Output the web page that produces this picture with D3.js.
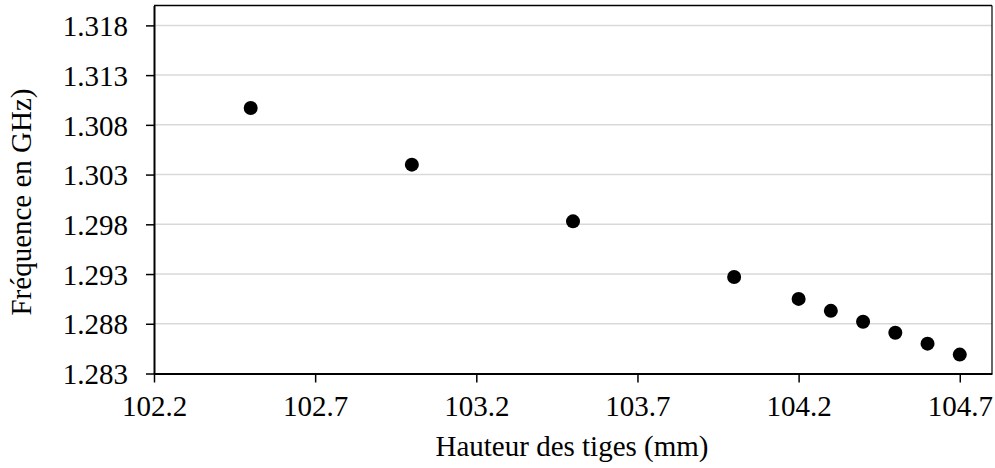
<!DOCTYPE html>
<html>
<head>
<meta charset="utf-8">
<script src="https://cdn.jsdelivr.net/npm/d3@7"></script>
<style>
  html, body { margin: 0; padding: 0; background: #fff; }
  svg { display: block; }
  text { font-family: "Liberation Serif", "Times New Roman", serif; fill: #000; }
</style>
</head>
<body>
<svg id="chart" width="995" height="468"></svg>
<script>
const hauteur = [102.5, 103.0, 103.5, 104.0, 104.2, 104.3, 104.4, 104.5, 104.6, 104.7];
const frequence = [1.3097, 1.3040, 1.2983, 1.2927, 1.2905, 1.2893, 1.2882, 1.2871, 1.2860, 1.2849];
const xTicks = [102.2, 102.7, 103.2, 103.7, 104.2, 104.7];
const yTicks = [1.283, 1.288, 1.293, 1.298, 1.303, 1.308, 1.313, 1.318];
const xTitle = "Hauteur des tiges (mm)";
const yTitle = "Fréquence en GHz)";

const svg = d3.select("#chart");
const pLeft = 154, pRight = 992, pTop = 5.5, pBottom = 373.5;
const fontSize = "29px";
const fontFam = '"Liberation Serif", "Times New Roman", serif';

const x = d3.scaleLinear().domain([102.2, 104.8]).range([pLeft, pRight]);
const y = d3.scaleLinear().domain([1.283, 1.320]).range([pBottom, pTop]);

// gridlines
svg.append("g").selectAll("line").data(yTicks.slice(1)).join("line")
  .attr("x1", pLeft).attr("x2", pRight)
  .attr("y1", d => y(d)).attr("y2", d => y(d))
  .attr("stroke", "#d9d9d9").attr("stroke-width", 1.5);

// frame top/right
svg.append("line").attr("x1", pLeft).attr("x2", pRight).attr("y1", pTop).attr("y2", pTop)
  .attr("stroke", "#000").attr("stroke-width", 1.5);
svg.append("line").attr("x1", pRight).attr("x2", pRight).attr("y1", pTop).attr("y2", pBottom)
  .attr("stroke", "#000").attr("stroke-width", 1.2);

// axes
const xAxis = svg.append("g").attr("transform", `translate(0,${pBottom})`)
  .call(d3.axisBottom(x).tickValues(xTicks).tickFormat(d3.format(".1f")).tickSize(9).tickSizeOuter(0).tickPadding(13));
const yAxis = svg.append("g").attr("transform", `translate(${pLeft},0)`)
  .call(d3.axisLeft(y).tickValues(yTicks).tickFormat(d3.format(".3f")).tickSize(8).tickSizeOuter(0).tickPadding(18));

[xAxis, yAxis].forEach(a => {
  a.select(".domain").attr("stroke", "#000").attr("stroke-width", 2);
  a.selectAll(".tick line").attr("stroke", "#000").attr("stroke-width", 1.5);
  a.selectAll(".tick text").style("font-size", fontSize).attr("fill", "#000")
    .style("font-family", fontFam);
});
yAxis.selectAll(".tick text").attr("dy", "0.35em");

// points
svg.append("g").selectAll("circle").data(hauteur).join("circle")
  .attr("cx", d => x(d)).attr("cy", (d, i) => y(frequence[i]))
  .attr("r", 7).attr("fill", "#000");

// titles
svg.append("text").attr("x", 572).attr("y", 449).attr("text-anchor", "middle")
  .attr("dominant-baseline", "middle").style("font-size", fontSize).style("font-family", fontFam).text(xTitle);
svg.append("text").attr("transform", "translate(24,202) rotate(-90)").attr("text-anchor", "middle")
  .attr("dominant-baseline", "middle").style("font-size", fontSize).style("font-family", fontFam).text(yTitle);
</script>
</body>
</html>
